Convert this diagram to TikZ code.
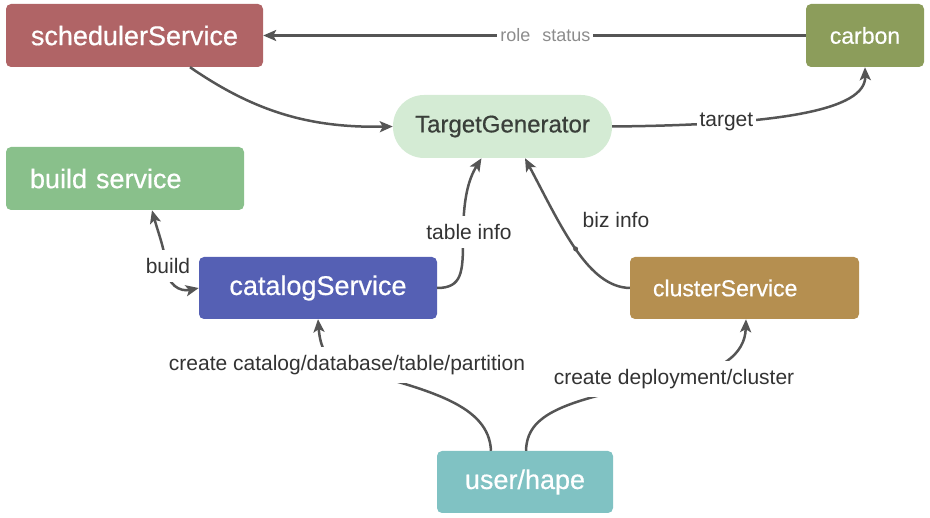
\documentclass[tikz,border=0pt]{standalone}
\usepackage{fontspec}
\setmainfont{Liberation Sans}
\newfontfamily\nodefont[FakeBold=0.6]{Liberation Sans}
\usetikzlibrary{arrows.meta}
\definecolor{cSched}{HTML}{B06466}
\definecolor{cCarbon}{HTML}{8C9D5B}
\definecolor{cTG}{HTML}{D4EBD4}
\definecolor{cTGtext}{HTML}{3A3F3A}
\definecolor{cBuild}{HTML}{89C08B}
\definecolor{cCat}{HTML}{5560B4}
\definecolor{cClus}{HTML}{B58F50}
\definecolor{cUser}{HTML}{80C2C3}
\definecolor{cLine}{HTML}{555555}
\definecolor{cLbl}{HTML}{333333}
\definecolor{cGray}{HTML}{8C8C8C}
\begin{document}
\begin{tikzpicture}[x=1pt,y=-1pt,
  box/.style={rectangle, rounded corners=5pt, text=white, inner sep=0pt,
    font=\nodefont\fontsize{27}{30}\selectfont, minimum height=63pt},
  smallbox/.style={font=\nodefont\fontsize{23}{26}\selectfont},
  conn/.style={draw=cLine, line width=2.5pt, -{Stealth[length=13pt,width=11pt,inset=3pt]}},
  bothconn/.style={draw=cLine, line width=2.5pt, {Stealth[length=13pt,width=11pt,inset=3pt]}-{Stealth[length=13pt,width=11pt,inset=3pt]}},
  lbl/.style={fill=white, text=cLbl, font=\fontsize{21}{24}\selectfont, inner xsep=3pt, inner ysep=8pt},
  graylbl/.style={fill=white, text=cGray, font=\fontsize{18}{21}\selectfont, inner xsep=3pt, inner ysep=4pt},
  dotmark/.style={circle, fill=cLine, inner sep=0pt, minimum size=5pt}
]
\useasboundingbox (0,0) rectangle (930,518);

% nodes
\node[box, fill=cSched, minimum width=257pt] (sched) at (134.5,35.5) {schedulerService};
\node[box, smallbox, fill=cCarbon, minimum width=118pt] (carbon) at (865,35.5) {carbon};
\node[box, fill=cTG, text=cTGtext, minimum width=219pt, rounded corners=31pt,
  font=\nodefont\fontsize{24}{27}\selectfont] (tg) at (502.5,126.5) {TargetGenerator};
\node[box, fill=cBuild, text width=190pt, align=left, inner xsep=24pt] (build) at (125,178.5) {build service};
\node[box, fill=cCat, minimum width=238pt, minimum height=62pt] (cat) at (318,288) {catalogService};
\node[box, smallbox, fill=cClus, text width=183pt, align=left, inner xsep=23pt, minimum height=62pt] (clus) at (744.5,288) {clusterService};
\node[box, fill=cUser, minimum width=176pt, minimum height=62pt] (user) at (525,482) {user/hape};

% connectors
\draw[conn] (carbon.west) -- node[graylbl, pos=0.48] (rs) {role\hspace{12pt}status} (sched.east);

\draw[conn] ([xshift=55.5pt]sched.south) .. controls (255,112) and (310,128) .. (tg.west);

\draw[conn] (tg.east) .. controls (780,125) and (866,110) .. (carbon.south)
  node[lbl, pos=0.26] (tl) {target};

\draw[conn] (cat.east) .. controls (462,288) and (463,272) .. (463,240)
  .. controls (463,200) and (468,180) .. ([xshift=-21pt]tg.south);
\node[lbl] (ti) at (469,232) {table info};

\draw[conn] (clus.west) .. controls (588,287) and (562,228) .. ([xshift=22.5pt]tg.south)
  node[dotmark, pos=0.5] (bd) {};
\node[text=cLbl, font=\fontsize{21}{24}\selectfont] (bi) at (616,220) {biz info};

\draw[bothconn] ([xshift=27pt]build.south) .. controls (158,232) and (165,250) .. (166,266)
  .. controls (167,285) and (180,292) .. (cat.west);
\node[lbl] (bl) at (168,266) {build};

\draw[conn] ([xshift=-34pt]user.north) .. controls (489,405) and (430,390) .. (347,368)
  .. controls (325,362) and (320,345) .. (cat.south);
\node[lbl] (cc) at (347,365) {create catalog/database/table/partition};

\draw[conn] ([xshift=1pt]user.north) .. controls (527,415) and (560,400) .. (674,380)
  .. controls (720,372) and (745,355) .. ([xshift=1.5pt]clus.south);
\node[lbl] (cd) at (674,379) {create deployment/cluster};
\end{tikzpicture}
\end{document}
